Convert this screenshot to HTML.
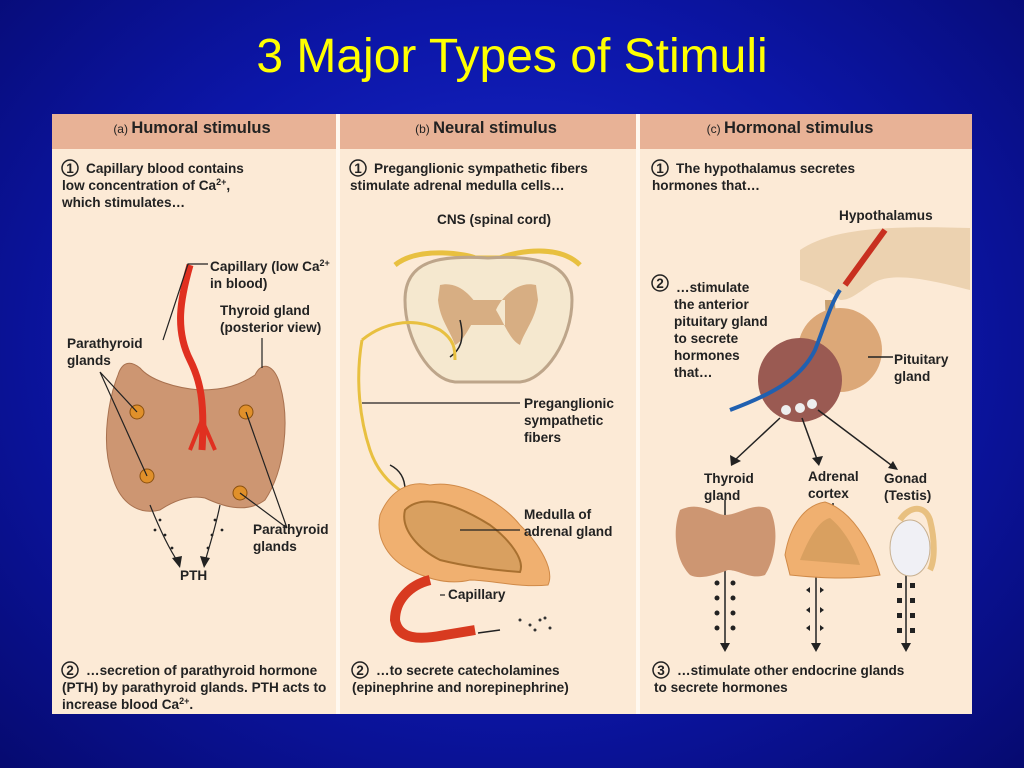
<!DOCTYPE html>
<html><head><meta charset="utf-8"><style>
html,body{margin:0;padding:0;width:1024px;height:768px;overflow:hidden}
body{background:radial-gradient(ellipse at 50% 45%,#1a2cd0 0%,#0c16a8 55%,#060a70 100%);}
svg{display:block}
text{font-family:"Liberation Sans",sans-serif;font-weight:bold;font-size:13.6px;fill:#222}
.h{font-size:16.5px}
.hs{font-size:12px;font-weight:normal}
</style></head><body>
<svg width="1024" height="768" viewBox="0 0 1024 768">
<text x="512" y="72" text-anchor="middle" style="font-size:48px;font-weight:normal;fill:#ffff00">3 Major Types of Stimuli</text>
<rect x="52" y="114" width="920" height="600" fill="#fcead6"/>
<rect x="52" y="114" width="920" height="35" fill="#e8b296"/>
<rect x="336" y="114" width="4" height="600" fill="#fff8ef"/>
<rect x="636" y="114" width="4" height="600" fill="#fff8ef"/>
<text x="192" y="133" text-anchor="middle"><tspan class="hs">(a) </tspan><tspan class="h">Humoral stimulus</tspan></text>
<text x="486" y="133" text-anchor="middle"><tspan class="hs">(b) </tspan><tspan class="h">Neural stimulus</tspan></text>
<text x="790" y="133" text-anchor="middle"><tspan class="hs">(c) </tspan><tspan class="h">Hormonal stimulus</tspan></text>

<g fill="none" stroke="#222" stroke-width="1.5">
<circle cx="70" cy="168" r="8"/><circle cx="358" cy="168" r="8"/><circle cx="660" cy="168" r="8"/>
<circle cx="660" cy="283" r="8"/><circle cx="70" cy="670" r="8"/><circle cx="360" cy="670" r="8"/><circle cx="661" cy="670" r="8"/>
</g>
<g text-anchor="middle"><text x="70" y="173">1</text><text x="358" y="173">1</text><text x="660" y="173">1</text><text x="660" y="288">2</text><text x="70" y="675">2</text><text x="360" y="675">2</text><text x="661" y="675">3</text></g>

<text x="86" y="173">Capillary blood contains</text>
<text x="62" y="190">low concentration of Ca<tspan dy="-5" style="font-size:9px">2+</tspan><tspan dy="5">,</tspan></text>
<text x="62" y="207">which stimulates…</text>
<text x="374" y="173">Preganglionic sympathetic fibers</text>
<text x="350" y="190">stimulate adrenal medulla cells…</text>
<text x="676" y="173">The hypothalamus secretes</text>
<text x="652" y="190">hormones that…</text>

<!-- col a drawing -->
<path d="M118 375 C110 395 100 440 112 475 C120 505 140 515 160 510 C175 500 190 495 205 498 C220 505 245 515 265 500 C285 470 290 420 280 385 C275 365 262 360 255 375 C240 385 225 390 200 390 C175 388 150 380 140 368 C130 360 122 362 118 375Z" fill="#cd9672" stroke="#a8714f"/>
<path d="M190 265 C180 300 175 330 190 360 C200 380 205 400 202 450" fill="none" stroke="#e03020" stroke-width="7"/>
<path d="M202 420 L190 450 M202 420 L215 450" stroke="#e03020" stroke-width="4"/>
<g fill="#e0902a" stroke="#8a5010"><circle cx="137" cy="412" r="7"/><circle cx="246" cy="412" r="7"/><circle cx="147" cy="476" r="7"/><circle cx="240" cy="493" r="7"/></g>
<g stroke="#222" stroke-width="1.2" fill="none">
<path d="M208 264 L188 264 L163 340"/><path d="M262 338 L262 368"/>
<path d="M100 372 L137 412 M100 372 L147 476"/><path d="M287 528 L246 412 M287 528 L240 493"/>
<path d="M150 505 C160 530 170 550 178 562"/><path d="M220 505 C215 530 208 550 205 562"/>
</g>
<path d="M172 558 L180 568 L182 556Z M200 556 L204 568 L210 558Z" fill="#222"/>
<g fill="#222"><circle cx="160" cy="520" r="1.4"/><circle cx="165" cy="535" r="1.4"/><circle cx="172" cy="548" r="1.4"/><circle cx="155" cy="530" r="1.4"/><circle cx="215" cy="520" r="1.4"/><circle cx="212" cy="535" r="1.4"/><circle cx="222" cy="530" r="1.4"/><circle cx="208" cy="548" r="1.4"/></g>
<text x="210" y="271">Capillary (low Ca<tspan dy="-5" style="font-size:9px">2+</tspan></text>
<text x="210" y="288">in blood)</text>
<text x="220" y="315">Thyroid gland</text><text x="220" y="332">(posterior view)</text>
<text x="67" y="348">Parathyroid</text><text x="67" y="365">glands</text>
<text x="253" y="534">Parathyroid</text><text x="253" y="551">glands</text>
<text x="180" y="580">PTH</text>

<!-- col b -->
<text x="437" y="224">CNS (spinal cord)</text>
<path d="M395 265 C420 245 470 255 475 258 L500 258 C520 250 560 245 580 265" fill="none" stroke="#e8c040" stroke-width="5"/>
<path d="M405 300 C405 260 440 255 488 258 C535 255 572 262 572 300 C572 340 545 380 520 382 L455 382 C430 380 405 340 405 300Z" fill="#f5e8cf" stroke="#bda58a" stroke-width="3"/>
<path d="M440 285 C460 280 475 300 480 310 C470 325 465 340 455 345 C450 330 440 320 438 300Z M536 285 C516 280 500 300 496 310 C505 325 510 340 520 345 C525 330 535 320 538 300Z M470 300 L505 300 L505 325 L470 325Z" fill="#d7ae83"/>
<path d="M460 320 C465 340 460 350 450 357" fill="none" stroke="#222" stroke-width="1.5"/>
<path d="M362 340 C380 325 410 315 440 330 C455 340 455 350 455 360" fill="none" stroke="#e8c040" stroke-width="3"/>
<path d="M362 340 C355 380 360 420 370 450 C380 480 400 490 420 505" fill="none" stroke="#e8c040" stroke-width="3"/>
<path d="M390 465 C400 470 405 478 405 490" fill="none" stroke="#222" stroke-width="1.5"/>
<path d="M380 515 C390 490 410 480 430 485 C460 480 500 500 520 525 C540 545 555 570 548 585 C520 588 490 580 470 580 C450 585 430 580 410 570 C390 560 375 540 380 515Z" fill="#f0b070" stroke="#d08a48"/>
<path d="M405 510 C420 495 450 500 490 525 C510 540 525 560 520 572 C490 570 460 565 440 560 C420 550 400 530 405 510Z" fill="#d9a060" stroke="#a87030" stroke-width="2"/>
<path d="M430 580 C410 585 395 600 395 620 C398 640 420 640 445 635 L475 630" fill="none" stroke="#d83a20" stroke-width="10"/>
<path d="M478 633 L500 630" stroke="#222" stroke-width="1.5"/>
<g fill="#333"><circle cx="520" cy="620" r="1.5"/><circle cx="530" cy="625" r="1.5"/><circle cx="540" cy="620" r="1.5"/><circle cx="535" cy="630" r="1.5"/><circle cx="550" cy="628" r="1.5"/><circle cx="545" cy="618" r="1.5"/></g>
<g stroke="#222" stroke-width="1.2"><line x1="362" y1="403" x2="520" y2="403"/><line x1="460" y1="530" x2="520" y2="530"/><line x1="440" y1="595" x2="445" y2="595"/></g>
<text x="524" y="408">Preganglionic</text><text x="524" y="425">sympathetic</text><text x="524" y="442">fibers</text>
<text x="524" y="519">Medulla of</text><text x="524" y="536">adrenal gland</text>
<text x="448" y="599">Capillary</text>

<!-- col c -->
<text x="839" y="220">Hypothalamus</text>
<path d="M800 250 C830 230 880 225 970 228 L970 290 C930 280 890 270 870 285 C855 295 850 300 840 300 C830 290 815 285 800 280Z" fill="#ecd2b0"/>
<path d="M845 285 L885 230" stroke="#c83020" stroke-width="6"/>
<path d="M830 300 C830 320 835 335 830 345" stroke="#c8a070" stroke-width="10"/>
<circle cx="840" cy="350" r="42" fill="#dca878"/>
<circle cx="800" cy="380" r="42" fill="#9a5a52"/>
<path d="M730 410 C770 395 800 380 815 350 C825 325 830 305 840 290" fill="none" stroke="#2060b0" stroke-width="4"/>
<g fill="#eee"><circle cx="786" cy="410" r="5"/><circle cx="800" cy="408" r="5"/><circle cx="812" cy="404" r="5"/></g>
<g stroke="#222" stroke-width="1.5" fill="#222">
<line x1="780" y1="418" x2="735" y2="460"/><line x1="802" y1="418" x2="818" y2="462"/><line x1="818" y1="410" x2="895" y2="468"/>
<line x1="725" y1="500" x2="725" y2="645"/><line x1="816" y1="525" x2="816" y2="645"/><line x1="906" y1="575" x2="906" y2="645"/>
<line x1="868" y1="357" x2="893" y2="357"/><line x1="833" y1="503" x2="833" y2="525"/>
</g>
<path d="M730 455 L731 466 L741 461Z M812 458 L819 466 L823 456Z M888 468 L898 470 L893 461Z M720 643 L725 652 L730 643Z M811 643 L816 652 L821 643Z M901 643 L906 652 L911 643Z" fill="#222"/>
<g fill="#222">
<circle cx="717" cy="568" r="2.5"/><circle cx="733" cy="568" r="2.5"/><circle cx="717" cy="583" r="2.5"/><circle cx="733" cy="583" r="2.5"/><circle cx="717" cy="598" r="2.5"/><circle cx="733" cy="598" r="2.5"/><circle cx="717" cy="613" r="2.5"/><circle cx="733" cy="613" r="2.5"/><circle cx="717" cy="628" r="2.5"/><circle cx="733" cy="628" r="2.5"/>
<path d="M806 570l4 -3 0 6z M824 570l-4 -3 0 6z M806 590l4 -3 0 6z M824 590l-4 -3 0 6z M806 610l4 -3 0 6z M824 610l-4 -3 0 6z M806 628l4 -3 0 6z M824 628l-4 -3 0 6z"/>
<rect x="897" y="583" width="5" height="5"/><rect x="910" y="583" width="5" height="5"/><rect x="897" y="598" width="5" height="5"/><rect x="910" y="598" width="5" height="5"/><rect x="897" y="613" width="5" height="5"/><rect x="910" y="613" width="5" height="5"/><rect x="897" y="628" width="5" height="5"/><rect x="910" y="628" width="5" height="5"/>
</g>
<text x="676" y="292">…stimulate</text><text x="674" y="309">the anterior</text><text x="674" y="326">pituitary gland</text>
<text x="674" y="343">to secrete</text><text x="674" y="360">hormones</text><text x="674" y="377">that…</text>
<text x="894" y="364">Pituitary</text><text x="894" y="381">gland</text>
<text x="704" y="483">Thyroid</text><text x="704" y="500">gland</text>
<text x="808" y="481">Adrenal</text><text x="808" y="498">cortex</text>
<text x="884" y="483">Gonad</text><text x="884" y="500">(Testis)</text>
<path d="M680 510 C700 500 715 515 725 515 C740 515 755 500 770 510 C780 530 775 560 765 575 C750 580 740 570 728 570 C715 575 700 580 690 575 C675 560 672 530 680 510Z" fill="#cd9672"/>
<path d="M785 555 C790 525 805 505 825 502 C850 510 870 540 880 575 C850 580 820 578 790 575Z" fill="#f0b070" stroke="#d08a48"/>
<path d="M800 560 C810 535 820 520 830 518 C845 530 855 550 860 565Z" fill="#d9a060"/>
<ellipse cx="910" cy="548" rx="20" ry="28" fill="#f0f0f5" stroke="#c8b090"/>
<path d="M900 520 C910 505 925 505 930 520 C935 540 935 560 930 570" fill="none" stroke="#e8c080" stroke-width="6"/>

<text x="86" y="675">…secretion of parathyroid hormone</text>
<text x="62" y="692">(PTH) by parathyroid glands. PTH acts to</text>
<text x="62" y="709">increase blood Ca<tspan dy="-5" style="font-size:9px">2+</tspan><tspan dy="5">.</tspan></text>
<text x="376" y="675">…to secrete catecholamines</text>
<text x="352" y="692">(epinephrine and norepinephrine)</text>
<text x="677" y="675">…stimulate other endocrine glands</text>
<text x="654" y="692">to secrete hormones</text>
</svg>
</body></html>
